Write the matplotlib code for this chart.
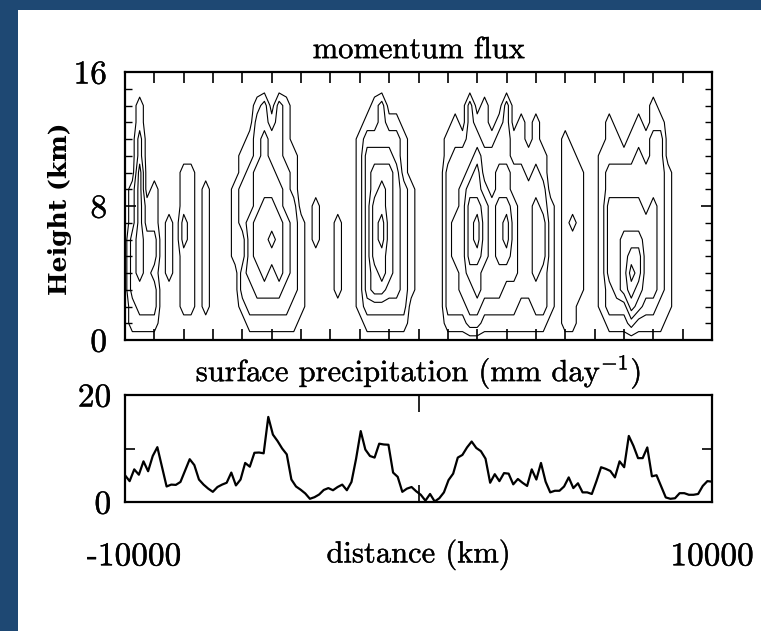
import numpy as np
import matplotlib
matplotlib.use('Agg')
import matplotlib.pyplot as plt
import matplotlib.transforms as mtransforms
import matplotlib.patheffects as pe
from matplotlib.patches import Rectangle
from matplotlib.ticker import MultipleLocator, FixedLocator

plt.rcParams['font.family'] = ['cmr10', 'DejaVu Serif']
plt.rcParams['mathtext.fontset'] = 'cm'
plt.rcParams['axes.unicode_minus'] = False

# surface precipitation (mm/day) on the 128-point model grid, west to east
precip = [
    5.0, 3.9, 6.1, 5.1, 7.6, 5.75, 8.6, 10.25, 6.6, 2.9,
    3.25, 3.2, 3.75, 5.9, 8.0, 6.9, 4.2, 3.25, 2.5, 1.9,
    2.8, 3.25, 3.6, 5.5, 3.1, 4.2, 7.3, 6.6, 9.2, 9.25,
    9.1, 15.9, 12.6, 11.4, 10.0, 8.9, 4.2, 2.9, 2.3, 1.6,
    0.6, 0.9, 1.4, 2.25, 2.6, 2.2, 2.8, 3.25, 2.2, 3.75,
    8.1, 13.25, 9.8, 8.6, 8.3, 10.9, 10.75, 10.7, 5.5, 4.7,
    1.9, 2.5, 2.8, 2.0,
    1.35, 0.25, 1.5, 0.1, 0.7, 1.8, 4.1, 5.3, 8.3, 8.8,
    10.2, 11.3, 10.1, 9.5, 8.1, 3.6, 5.2, 3.9, 5.4, 5.3,
    3.3, 4.3, 3.6, 3.0, 6.1, 4.2, 7.3, 3.8, 1.8, 2.1,
    2.1, 2.9, 4.6, 2.6, 3.5, 1.8, 1.8, 1.5, 3.9, 6.5,
    6.2, 5.8, 4.6, 7.6, 6.5, 12.35, 10.5, 8.2, 8.2, 10.2,
    4.8, 5.0, 2.9, 0.85, 0.6, 0.7, 1.65, 1.65, 1.35, 1.35,
    1.5, 3.0, 3.9, 3.8,
]
distance = np.linspace(-10000, 10000, len(precip))

# momentum flux, read as contour level (0-6) for every 250 km column;
# each string is one column, one character per km from 0 to 16 km
empty = "00000000000000000"
flux_columns = [
    empty,                  # -10000
    "01122221110000000",
    "01223333333221100",
    "01222221100000000",
    "01221221110000000",
    empty,
    "00001111000000000",
    empty,
    "00111122111000000",
    "00111111111000000",
    empty,                  # -7500
    "00111111110000000",
    empty, empty, empty,
    "00000111110000000",
    "00122112221100000",
    "01223333222110000",
    "01233444333222100",
    "01234444433332200",
    "01233454433221000",    # -5000
    "01234444332222200",
    "01223333222111100",
    "01122222211100000",
    "00111111000000000",
    empty,
    "00000011100000000",
    empty, empty,
    "00011111000000000",
    empty,                  # -2500
    empty,
    "00111111111110000",
    "01233333333321000",
    "01244555544321100",
    "01245566554322200",
    "01234444444321000",
    "01233333333221000",
    "01222222221110000",
    "00011111110000000",
    empty,                  # 0
    empty, empty, empty,
    "01222222222110000",
    "01222333222211000",
    "01233333332210000",
    "02334555543222200",
    "02344566544321000",
    "01233444432211100",
    "01233333322210000",    # 2500
    "01233444433221000",
    "01223455433222200",
    "01223333322110000",
    "01122222222111000",
    "01122222221100000",
    "01223333322111000",
    "01222333221100000",
    "00111111100000000",
    empty,
    "01111111111110000",    # 5000
    "01111112111100000",
    "00011111111000000",
    empty, empty,
    "00111111111100000",
    "01223333322111000",
    "01233333322110000",
    "01244443322100000",
    "02456543322110000",
    "01345543322211000",    # 7500
    "01233333222110000",
    "01233333322221100",
    "01122222222221000",
    "00111111111000000",
    empty, empty, empty, empty, empty,
    empty,                  # 10000
]
flux_x = np.linspace(-10000, 10000, len(flux_columns))
heights = np.arange(17)
flux = np.array([[int(c) for c in col] for col in flux_columns]).T
flux_levels = [0.5, 1.5, 2.5, 3.5, 4.5, 5.5]

# scanned print looks a little heavier than plain cmr10
ink = [pe.withStroke(linewidth=0.25, foreground='black')]

fig = plt.figure(figsize=(7.61, 6.31), dpi=100)
fig.patch.set_facecolor('#1e4873')
fig.add_artist(Rectangle((18 / 761, 0), 1, 1 - 10 / 631, transform=fig.transFigure,
                         facecolor='white', edgecolor='none', zorder=-10))

# --- momentum flux panel
ax1 = fig.add_axes([125 / 761, 1 - 340 / 631, 587 / 761, 268 / 631])
ax1.contour(flux_x, heights, flux, levels=flux_levels, colors='black', linewidths=0.8)
ax1.set_xlim(-10000, 10000)
ax1.set_ylim(0, 16)
ax1.set_title('momentum flux', fontsize=22, pad=10, path_effects=ink)
ax1.xaxis.set_major_locator(MultipleLocator(1000))
ax1.set_xticklabels([])
ax1.set_yticks([0, 8, 16])
ax1.yaxis.set_minor_locator(MultipleLocator(1))
ax1.tick_params(axis='x', which='both', direction='in', top=True, bottom=True, length=8, width=1.2)
ax1.tick_params(axis='y', which='major', direction='in', left=True, right=True, length=8, width=1.2,
                labelsize=24, pad=13)
ax1.tick_params(axis='y', which='minor', direction='in', left=True, right=True, length=5, width=1.0)
for s in ax1.spines.values():
    s.set_linewidth(1.6)

fig.text(60 / 761, 1 - 209 / 631, 'Height (km)', rotation=90, ha='center', va='center',
         fontsize=18, family='DejaVu Serif', weight='bold')

# --- surface precipitation panel
ax2 = fig.add_axes([125 / 761, 1 - 502 / 631, 587 / 761, 107 / 631])
ax2.plot(distance, precip, color='black', linewidth=1.6)
ax2.set_xlim(-10000, 10000)
ax2.set_ylim(0, 20)
ax2.set_title(r'surface precipitation (mm day$^{-1}$)', fontsize=22, pad=10, path_effects=ink)
ax2.set_yticks([0, 10, 20])
ax2.set_yticklabels(['0', '', '20'])
ax2.tick_params(axis='y', direction='in', left=True, right=True, length=7, width=1.2,
                labelsize=24, pad=10)
ax2.set_xticks([-10000, 10000])
ax2.set_xticklabels(['-10000', '10000'])
ax2.xaxis.set_minor_locator(FixedLocator([0]))
ax2.tick_params(axis='x', which='major', length=0, labelsize=24, pad=29)
ax2.tick_params(axis='x', which='minor', direction='in', top=True, bottom=True, length=12, width=1.2)
for s in ax2.spines.values():
    s.set_linewidth(1.6)
shift = mtransforms.ScaledTranslation(0.09, 0, fig.dpi_scale_trans)
left_label = ax2.get_xticklabels()[0]
left_label.set_transform(left_label.get_transform() + shift)
ax2.text(0.5, -0.495, 'distance (km)', transform=ax2.transAxes, ha='center', va='center',
         fontsize=22, path_effects=ink)

for lab in ax1.get_yticklabels() + ax2.get_yticklabels() + ax2.get_xticklabels():
    lab.set_path_effects(ink)

fig.savefig('out.png', dpi=100, facecolor=fig.get_facecolor())
